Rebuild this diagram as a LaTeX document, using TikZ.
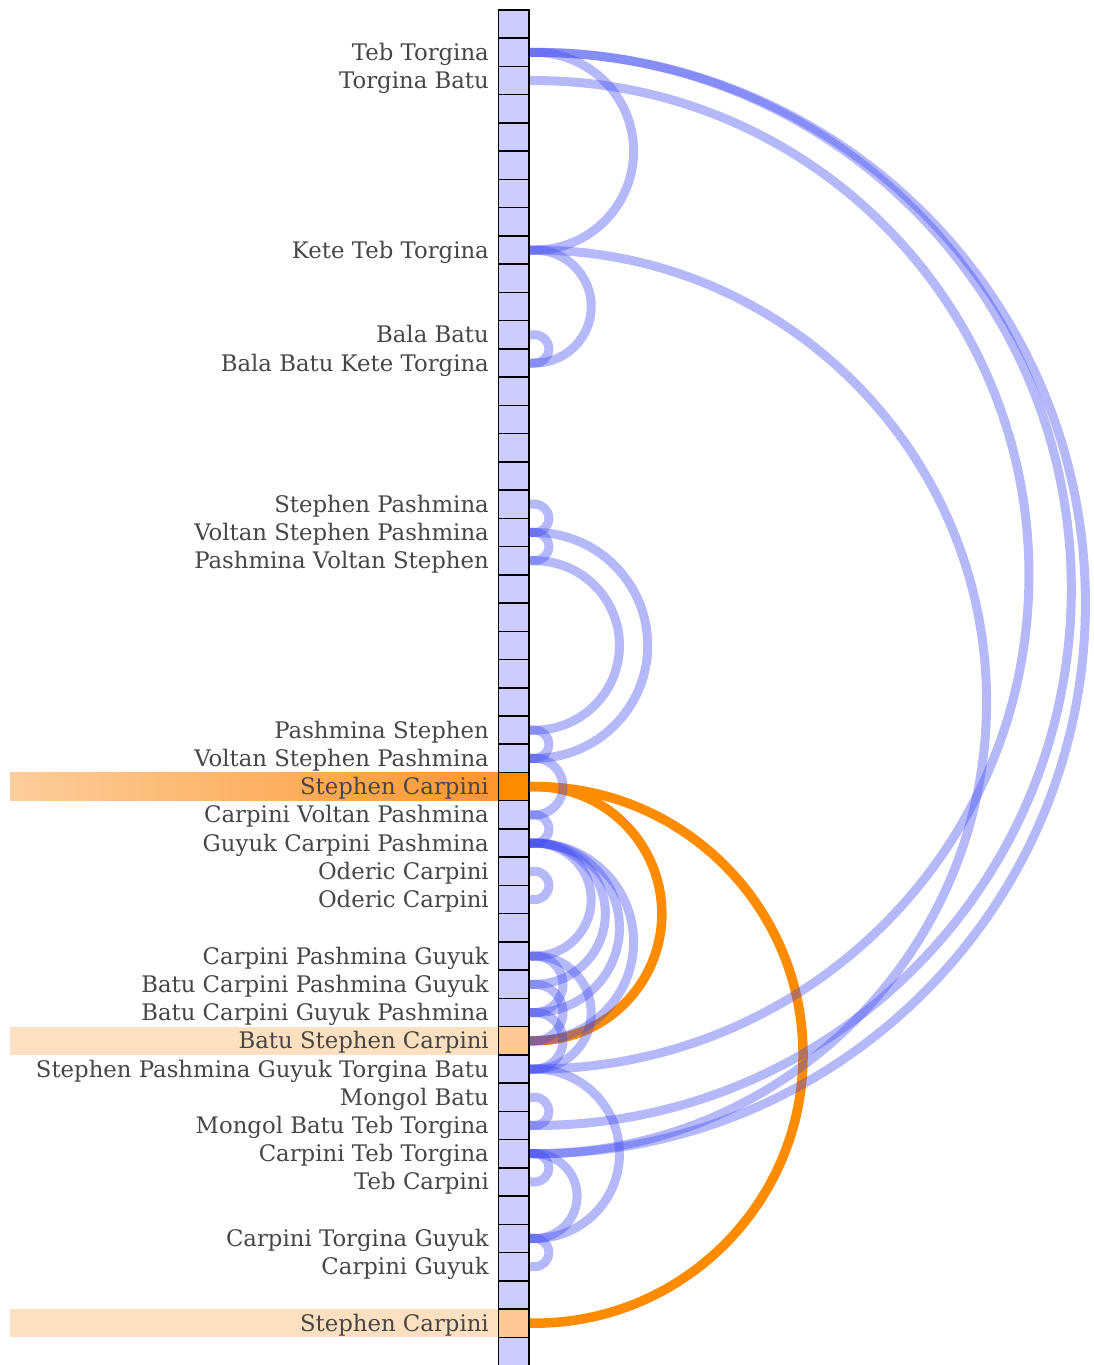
\documentclass[tikz,border=0pt]{standalone}
\usepackage{fontspec}
\setmainfont{DejaVu Serif}
\definecolor{cellfill}{RGB}{204,204,255}
\definecolor{arcblue}{RGB}{60,70,240}
\definecolor{arcorange}{RGB}{255,140,0}
\definecolor{peachbar}{RGB}{253,224,192}
\definecolor{peachcell}{RGB}{253,200,150}
\definecolor{barleft}{RGB}{252,205,155}
\definecolor{barright}{RGB}{255,150,45}
\definecolor{txt}{RGB}{70,70,70}
\begin{document}
\begin{tikzpicture}[x=1pt,y=1pt,
  cell/.style={draw=black, line width=1.5pt, fill=cellfill, minimum width=30.5pt, minimum height=28.24pt, inner sep=0pt},
  lab/.style={anchor=base east, inner sep=0pt, text=txt, font=\fontsize{22.8}{26}\selectfont},
  bluearc/.style={draw=arcblue, opacity=0.38, line width=9pt},
  orangearc/.style={draw=arcorange, line width=9.5pt}]
\useasboundingbox (0,0) rectangle (1094,-1365);
% highlight bars
\shade[left color=barleft, right color=barright] (10,{-(10+28.24*27)}) rectangle (498.5,{-(10+28.24*28)});
\fill[peachbar] (10,{-(10+28.24*36)}) rectangle (498.5,{-(10+28.24*37)});
\fill[peachbar] (10,{-(10+28.24*46)}) rectangle (498.5,{-(10+28.24*47)});
% cells
\foreach \i in {0,...,47}{
  \def\cf{cellfill}
  \ifnum\i=27 \def\cf{arcorange}\fi
  \ifnum\i=36 \def\cf{peachcell}\fi
  \ifnum\i=46 \def\cf{peachcell}\fi
  \node[cell, fill=\cf] (r\i) at (513.75,{-(24.12+28.24*\i)}) {};
}
% labels
\foreach \i/\t in {1/Teb Torgina, 2/Torgina Batu, 8/Kete Teb Torgina, 11/Bala Batu,
  12/Bala Batu Kete Torgina, 17/Stephen Pashmina, 18/Voltan Stephen Pashmina,
  19/Pashmina Voltan Stephen, 25/Pashmina Stephen, 26/Voltan Stephen Pashmina,
  27/Stephen Carpini, 28/Carpini Voltan Pashmina, 29/Guyuk Carpini Pashmina,
  30/Oderic Carpini, 31/Oderic Carpini, 33/Carpini Pashmina Guyuk,
  34/Batu Carpini Pashmina Guyuk, 35/Batu Carpini Guyuk Pashmina,
  36/Batu Stephen Carpini, 37/Stephen Pashmina Guyuk Torgina Batu,
  38/Mongol Batu, 39/Mongol Batu Teb Torgina, 40/Carpini Teb Torgina,
  41/Teb Carpini, 43/Carpini Torgina Guyuk, 44/Carpini Guyuk, 46/Stephen Carpini}{
  \node[lab] (l\i) at (489,{-(24.12+28.24*\i+8)}) {\t};
}
% orange arcs
\foreach \a/\b in {27/36, 27/46}{
  \pgfmathsetmacro\rr{14.12*(\b-\a)}
  \draw[orangearc] (r\a.east) -- ++(5,0) arc[start angle=90,end angle=-90,radius=\rr pt] -- (r\b.east);
}
% blue arcs
\foreach \a/\b in {1/8, 1/39, 1/40, 2/37, 8/12, 8/40, 11/12, 17/18, 18/19, 18/26, 19/25,
  25/26, 26/28, 28/29, 30/31, 29/33, 29/34, 29/35, 29/36, 33/35, 34/36, 35/37, 33/37,
  37/43, 38/39, 40/41, 40/43, 43/44}{
  \pgfmathsetmacro\rr{14.12*(\b-\a)}
  \draw[bluearc] (r\a.east) -- ++(5,0) arc[start angle=90,end angle=-90,radius=\rr pt] -- (r\b.east);
}
\end{tikzpicture}
\end{document}
